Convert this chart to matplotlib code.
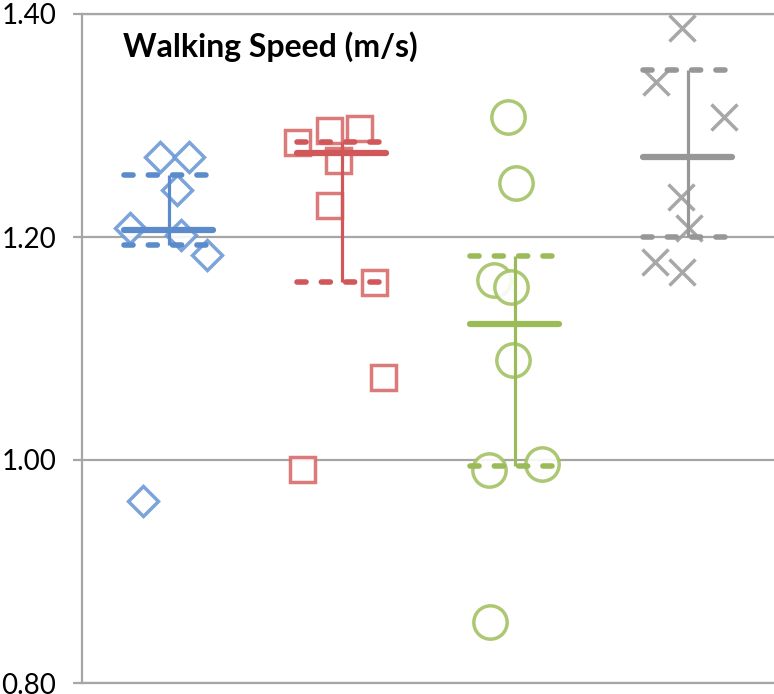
import numpy as np
import matplotlib.pyplot as plt

plt.rcParams['font.family'] = ['Lato', 'DejaVu Sans']
plt.rcParams['lines.scale_dashes'] = False

# individual measurements (x = jittered group position, y = walking speed)
blue_x = [0.95, 1.12, 1.05, 0.78, 1.07, 1.22, 0.85]
blue_y = [1.272, 1.272, 1.242, 1.208, 1.202, 1.184, 0.963]
red_x = [1.74, 1.93, 2.10, 1.98, 1.93, 2.19, 2.24, 1.77]
red_y = [1.285, 1.296, 1.298, 1.269, 1.229, 1.160, 1.074, 0.992]
green_x = [2.96, 3.01, 2.88, 2.98, 2.99, 2.85, 3.16, 2.86]
green_y = [1.308, 1.248, 1.161, 1.155, 1.090, 0.991, 0.996, 0.855]
gray_x = [3.97, 3.82, 4.21, 3.96, 4.01, 3.81, 3.97]
gray_y = [1.387, 1.339, 1.308, 1.236, 1.208, 1.178, 1.169]

# summary lines per group: mean (solid), upper / lower quartile (dashed)
groups = [1, 2, 3, 4]
means = [1.206, 1.275, 1.122, 1.272]
upper_q = [1.256, 1.285, 1.183, 1.350]
lower_q = [1.193, 1.160, 0.995, 1.200]

yticks = [0.80, 1.00, 1.20, 1.40]

line_cols = ['#5B8BCB', '#D0575A', '#9BBB59', '#979797']
mark_cols = ['#6C9AD6', '#D96B6B', '#A3C264', '#9E9E9E']
markers = ['D', 's', 'o', 'x']
sizes = [15.5, 18, 24, 19]
xs = [blue_x, red_x, green_x, gray_x]
ys = [blue_y, red_y, green_y, gray_y]

fig = plt.figure(figsize=(7.74, 6.94), dpi=100)
ax = fig.add_axes([82 / 774, 11 / 694, 1 - 82 / 774, (683 - 14) / 694])

for i in range(4):
    ax.plot(xs[i], ys[i], linestyle='none', marker=markers[i], ms=sizes[i],
            mfc='white' if markers[i] != 'x' else mark_cols[i],
            mec=mark_cols[i], mew=2.5, alpha=0.9, zorder=3)

hw = 0.255
for i, g in enumerate(groups):
    c = line_cols[i]
    ax.vlines(g, lower_q[i], upper_q[i], color=c, lw=2.3, zorder=4)
    ax.hlines(means[i], g - hw, g + hw, color=c, lw=4.5, capstyle='round', zorder=5)
    for q in (upper_q[i], lower_q[i]):
        ax.plot([g - hw, g + hw], [q, q], color=c, lw=4.0,
                dashes=(6.5, 11.0), dash_capstyle='round', zorder=5)

ax.set_xlim(0.5, 4.5)
ax.set_ylim(0.80, 1.40)
ax.set_yticks(yticks)
ax.set_yticklabels([f'{v:.2f}' for v in yticks], fontsize=20)
ax.set_xticks([])
ax.grid(axis='y', color='#A6A6A6', lw=1.6, zorder=1)
ax.tick_params(axis='y', length=6.5, width=1.6, color='#A6A6A6', pad=12)
for s in ['left', 'bottom', 'top']:
    ax.spines[s].set_color('#A6A6A6')
    ax.spines[s].set_linewidth(1.6)
ax.spines['right'].set_visible(False)

ax.text(0.059, 0.951, 'Walking Speed (m/s)', transform=ax.transAxes,
        fontsize=23, fontweight='bold', va='center', ha='left')

fig.savefig('out.png', dpi=100)
